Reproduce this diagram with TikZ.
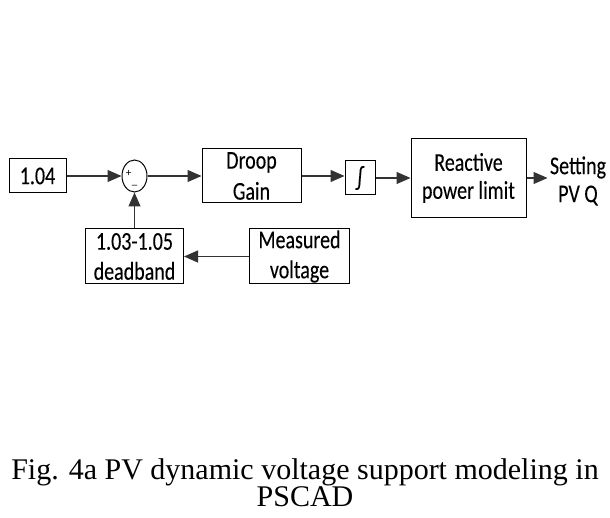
\documentclass[tikz,border=0pt]{standalone}
\usepackage{fontspec}
\usepackage{graphicx}
\setmainfont{Carlito}
\newfontfamily\blockfont[FakeBold=0.2]{Carlito}
\newfontfamily\capfont{Liberation Serif}
\usepackage{tikz}
\usetikzlibrary{arrows.meta, positioning, shapes.geometric}
\newcommand{\tall}[1]{\scalebox{1}[1.28]{#1}}

\begin{document}
\begin{tikzpicture}[
        x=1pt, y=-1pt,
        box/.style = {draw, rectangle, line width=1pt, inner sep=0pt, align=center, font=\blockfont\fontsize{20}{30}\selectfont},
        sumnode/.style = {draw, ellipse, line width=1pt, inner sep=0pt, minimum width=25pt, minimum height=32pt},
        sign/.style = {inner sep=0pt, font=\fontsize{11}{11}\selectfont},
        arrow/.style = {draw=black!80, line width=1.1pt, -{Triangle[length=14pt, width=12pt]}}
    ]
        \useasboundingbox (0,0) rectangle (610,518);

        % Forward path
        \node (ref) [box, minimum width=57pt, minimum height=34pt] at (37.5,176) {\tall{1.04}};
        \node (sum) [sumnode, right=55pt of ref] {};
        \node (plus) [sign] at ([xshift=-6pt, yshift=3pt]sum.center) {+};
        \node (minus) [sign] at ([yshift=-9pt]sum.center) {\_};
        \node (droop) [box, right=54pt of sum, minimum width=99pt, minimum height=54pt, font=\blockfont\fontsize{20}{31}\selectfont] {\tall{Droop}\\\tall{Gain}};
        \node (integ) [box, right=43pt of droop, minimum width=30pt, minimum height=34pt, yshift=-2pt] {\tall{∫}};
        \node (qlim) [box, right=35pt of integ, minimum width=115pt, minimum height=79pt, font=\blockfont\fontsize{20}{28}\selectfont] {\tall{Reactive}\\\tall{power limit}};
        \node (qset) [font=\blockfont\fontsize{20}{28}\selectfont, align=center, inner sep=0pt] at (578,181) {\tall{Setting}\\\tall{PV Q}};

        % Feedback path
        \node (dband) [box, below=36pt of sum, minimum width=98pt, minimum height=55pt] {\tall{1.03-1.05}\\\tall{deadband}};
        \node (meas) [box, right=65pt of dband, minimum width=100pt, minimum height=55pt] {\tall{Measured}\\\tall{voltage}};

        % Caption
        \node (cap) [align=center, inner sep=0pt, font=\capfont\fontsize{30}{24}\selectfont] at (305,483) {Fig. 4a PV dynamic voltage support modeling in\\PSCAD};

        % Arrows
        \draw [arrow] (ref) -- (sum);
        \draw [arrow] (sum) -- (droop);
        \draw [arrow] (droop) -- (integ.west |- droop.east);
        \draw [arrow] (integ) -- (qlim);
        \draw [arrow] (qlim.east) -- ++(21,0);
        \draw [arrow] (meas) -- (dband);
        \draw [arrow] (dband.north -| sum.south) -- (sum.south);

\end{tikzpicture}
\end{document}
